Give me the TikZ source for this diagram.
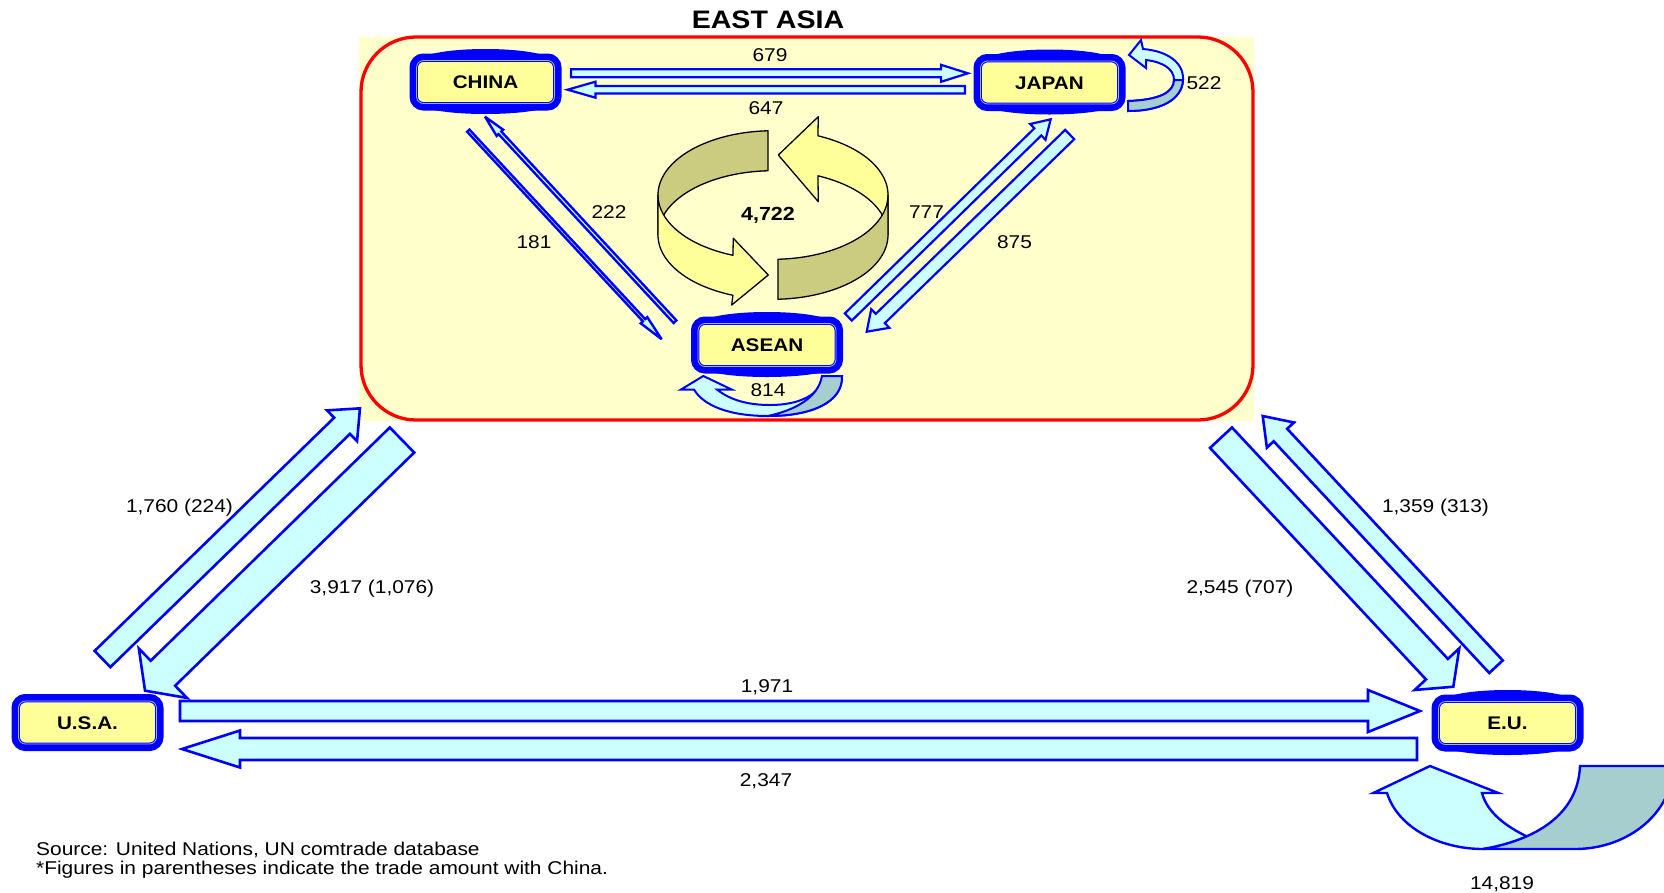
\documentclass[tikz,border=0pt]{standalone}
\usepackage{fontspec}
\setmainfont{Liberation Sans}[FakeStretch=1.13]
\usetikzlibrary{calc,backgrounds}

\definecolor{eafill}{RGB}{255,255,204}
\definecolor{boxfill}{RGB}{255,255,153}
\definecolor{flowfill}{RGB}{204,255,255}
\definecolor{loopshade}{RGB}{166,206,206}
\definecolor{ringback}{RGB}{204,204,128}
\definecolor{ringfront}{RGB}{255,255,153}
\definecolor{pureblue}{RGB}{0,0,255}
\definecolor{gaplight}{RGB}{160,180,255}

\tikzset{
  region/.style={rounded corners=7pt, minimum width=138pt, minimum height=43pt,
    inner sep=0pt, fill=boxfill, draw=pureblue, line width=1pt,
    double=gaplight, double distance=0.8pt,
    preaction={draw=pureblue, line width=14pt},
    text height=13.1pt, text depth=0pt,
    font=\bfseries\fontsize{18.3}{20}\selectfont},
  flow/.style={draw=pureblue, fill=flowfill, line width=2.2pt, miter limit=4},
  bigflow/.style={flow, line width=2.6pt},
  thinflow/.style={flow, line width=2.4pt},
  loopband/.style={draw=pureblue, line width=2pt},
  ringpart/.style={draw=black, line width=1.3pt, line join=round},
  num/.style={inner sep=0pt, text height=13.2pt, text depth=0pt,
    font=\fontsize{18.5}{20}\selectfont},
  note/.style={inner sep=0pt, anchor=base west, font=\fontsize{18.5}{20}\selectfont},
}

% block arrow between two named coordinates:
% [style] {from}{to}{half shaft width}{half head width}{head length}
\newcommand{\flowarrow}[6][]{%
  \pgfpointdiff{\pgfpointanchor{#2}{center}}{\pgfpointanchor{#3}{center}}%
  \pgfgetlastxy{\fdx}{\fdy}%
  \pgfmathsetmacro{\flen}{veclen(\fdx,\fdy)}%
  \pgfmathsetmacro{\fang}{atan2(\fdy,\fdx)}%
  \pgfmathsetmacro{\fbase}{\flen-#6}%
  \draw[flow,#1,shift={(#2)},rotate=\fang]
    (0pt,-#4pt) -- (\fbase pt,-#4pt) -- (\fbase pt,-#5pt) -- (\flen pt,0pt)
    -- (\fbase pt,#5pt) -- (\fbase pt,#4pt) -- (0pt,#4pt) -- cycle;
}

\begin{document}
\begin{tikzpicture}[x=1pt,y=-1pt]
\useasboundingbox (0,0) rectangle (1664,892);

% ---- rotating ribbon in the middle of East Asia ----
\begin{scope}[samples=40]
  % left arrow, back face
  \filldraw[ringpart, fill=ringback]
    plot[domain=92.5:180] ({773+115*cos(\x)},{195-64.3*sin(\x)})
    -- plot[domain=180:92.5] ({773+115*cos(\x)},{235-64.3*sin(\x)}) -- cycle;
  % right arrow, back face with head
  \filldraw[ringpart, fill=ringfront]
    plot[domain=67:0] ({773+115*cos(\x)},{235-64.3*sin(\x)})
    -- plot[domain=0:67] ({773+115*cos(\x)},{195-64.3*sin(\x)})
    -- (818.3,116.7) -- (778.3,155) -- (818.3,201.7) -- cycle;
  % left arrow, front face with head
  \filldraw[ringpart, fill=ringfront]
    plot[domain=180:249.6] ({773+115*cos(\x)},{195-64.3*sin(\x)})
    -- (733.3,238.3) -- (768.3,275) -- (731.7,305)
    -- plot[domain=249.6:180] ({773+115*cos(\x)},{235-64.3*sin(\x)}) -- cycle;
  % right arrow, front face
  \filldraw[ringpart, fill=ringback]
    plot[domain=272.5:360] ({773+115*cos(\x)},{195-64.3*sin(\x)})
    -- plot[domain=360:272.5] ({773+115*cos(\x)},{235-64.3*sin(\x)}) -- cycle;
\end{scope}
\node[inner sep=0pt, text height=13.6pt, text depth=0pt,
  font=\bfseries\fontsize{19}{20}\selectfont] (total) at (768,214) {4,722};

% ---- end points of the flows ----
\coordinate (t679) at (571,73.3);    \coordinate (h679) at (968,73.3);
\coordinate (t647) at (965,89.7);    \coordinate (h647) at (567.5,89.7);
\coordinate (t181) at (468.3,130.7); \coordinate (h181) at (661.7,339.3);
\coordinate (t222) at (675,321.7);   \coordinate (h222) at (485,116.7);
\coordinate (t777) at (848.3,317);   \coordinate (h777) at (1050.7,119.3);
\coordinate (t875) at (1069.7,134.5);\coordinate (h875) at (866.7,331.7);
\coordinate (t1760) at (102.5,659);  \coordinate (h1760) at (360,408.3);
\coordinate (t3917) at (402,440);    \coordinate (h3917) at (145,690.7);
\coordinate (t2545) at (1221,437.7); \coordinate (h2545) at (1453.3,686.7);
\coordinate (t1359) at (1496,666.7); \coordinate (h1359) at (1262.7,416);
\coordinate (t1971) at (180,711);    \coordinate (h1971) at (1420,711);
\coordinate (t2347) at (1417,749);   \coordinate (h2347) at (182,749);

% ---- flows inside East Asia ----
\flowarrow{t679}{h679}{4}{8.5}{27}
\flowarrow{t647}{h647}{3.7}{8}{28}
\flowarrow[thinflow]{t181}{h181}{1.6}{4.5}{26}
\flowarrow[thinflow]{t222}{h222}{1.9}{4.5}{22}
\flowarrow{t777}{h777}{5}{11}{18}
\flowarrow{t875}{h875}{6.5}{13}{19}

% ---- flows between the regions ----
\flowarrow[bigflow]{t1760}{h1760}{11.3}{21.5}{25}
\flowarrow[bigflow]{t3917}{h3917}{17.5}{34.5}{25}
\flowarrow[bigflow]{t2545}{h2545}{15}{30.5}{24}
\flowarrow[bigflow]{t1359}{h1359}{9.2}{18.5}{26}
\flowarrow[bigflow]{t1971}{h1971}{10}{21}{52}
\flowarrow[bigflow]{t2347}{h2347}{11}{18.5}{58}

% ---- regions ----
\node[region] (china) at (485.5,82)    {CHINA};
\node[region] (japan) at (1049.5,82.5) {JAPAN};
\node[region] (asean) at (767,345)     {ASEAN};
\node[region] (usa)   at (87.5,722.5)  {U.S.A.};
\node[region] (eu)    at (1507.5,723)  {E.U.};

% ---- trade inside each region ----
\begin{scope}[shift={($(japan.center)-(1049.5,82.5)$)}]
  \filldraw[loopband, fill=flowfill]
    (1128,101) .. controls (1160,100) and (1174,92) .. (1174,80)
    .. controls (1174,69) and (1163,62) .. (1146,60)
    -- (1146,68) -- (1129,55) -- (1141,40) -- (1143,49)
    .. controls (1168,51) and (1184,63) .. (1183,80)
    .. controls (1182,100) and (1160,111) .. (1128,111) -- cycle;
  \filldraw[loopband, fill=loopshade]
    (1128,101) .. controls (1160,100) and (1174,92) .. (1174,80)
    -- (1183,80) .. controls (1182,100) and (1160,111) .. (1128,111) -- cycle;
\end{scope}

\begin{scope}[shift={($(asean.center)-(767,345)$)}]
  \filldraw[loopband, fill=flowfill]
    (842,376) .. controls (843,402) and (812,416) .. (768,416)
    .. controls (728,416) and (703,405) .. (694,389.5)
    -- (681,389.5) -- (703.3,376) -- (731.7,389.5) -- (717,389.5)
    .. controls (730,400) and (748,405) .. (770,405)
    .. controls (800,405) and (822,394) .. (822,376) -- cycle;
  \filldraw[loopband, fill=loopshade]
    (842,376) .. controls (843,402) and (812,416) .. (768,416)
    .. controls (795,410) and (818,398) .. (822,376) -- cycle;
\end{scope}

\begin{scope}
  \clip (0,0) rectangle (1664,892);
  \begin{scope}[shift={($(eu.center)-(1507.5,723)$)}]
    \filldraw[loopband, line width=2.4pt, fill=flowfill]
      (1387,793) .. controls (1398,828) and (1440,849) .. (1483,849)
      .. controls (1500,847) and (1515,843) .. (1528,837)
      .. controls (1505,826) and (1487,812) .. (1482,793)
      -- (1498.3,793) -- (1430,766) -- (1373.3,793) -- cycle;
    \filldraw[loopband, line width=2.4pt, fill=loopshade]
      (1580,766) -- (1673,766) .. controls (1673,811.8) and (1629,849) .. (1575,849)
      -- (1483,849) .. controls (1535,840) and (1578,815) .. (1580,766) -- cycle;
  \end{scope}
\end{scope}

% ---- figures ----
\node[inner sep=0pt, text height=18pt, text depth=0pt,
  font=\bfseries\fontsize{25.3}{28}\selectfont] (title) at (768,19) {EAST ASIA};
\node[num] (v679)   at (770,55)      {679};
\node[num] (v647)   at (766,107.5)   {647};
\node[num] (v522)   at (1204,82.5)   {522};
\node[num] (v222)   at (609,212)     {222};
\node[num] (v181)   at (534,242)     {181};
\node[num] (v777)   at (926.5,212)   {777};
\node[num] (v875)   at (1014.5,241.7){875};
\node[num] (v814)   at (768,390)     {814};
\node[num] (v1760)  at (179.5,505.5) {1,760 (224)};
\node[num] (v3917)  at (372,587)     {3,917 (1,076)};
\node[num] (v2545)  at (1240,587)    {2,545 (707)};
\node[num] (v1359)  at (1435.5,505.5){1,359 (313)};
\node[num] (v1971)  at (767,686)     {1,971};
\node[num] (v2347)  at (766,780)     {2,347};
\node[num] (v14819) at (1502,883)    {14,819};

\node[note] (source) at (36,855.6) {Source: United Nations, UN comtrade database};
\node[note] (remark) at (36,874) {*Figures in parentheses indicate the trade amount with China.};

% ---- East Asia frame and the raised rims of the boxes ----
\begin{scope}[on background layer]
  \fill[eafill] (359,37) rectangle (1254,421);
  \draw[red, line width=3.3pt, rounded corners=55pt] (361,37) rectangle (1253,420);
  \foreach \n in {china,japan,asean,eu} {
    \fill[pureblue] (\n.north) ellipse [x radius=64pt, y radius=11pt];
    \fill[pureblue] (\n.south) ellipse [x radius=64pt, y radius=10pt];
  }
\end{scope}
\end{tikzpicture}
\end{document}
